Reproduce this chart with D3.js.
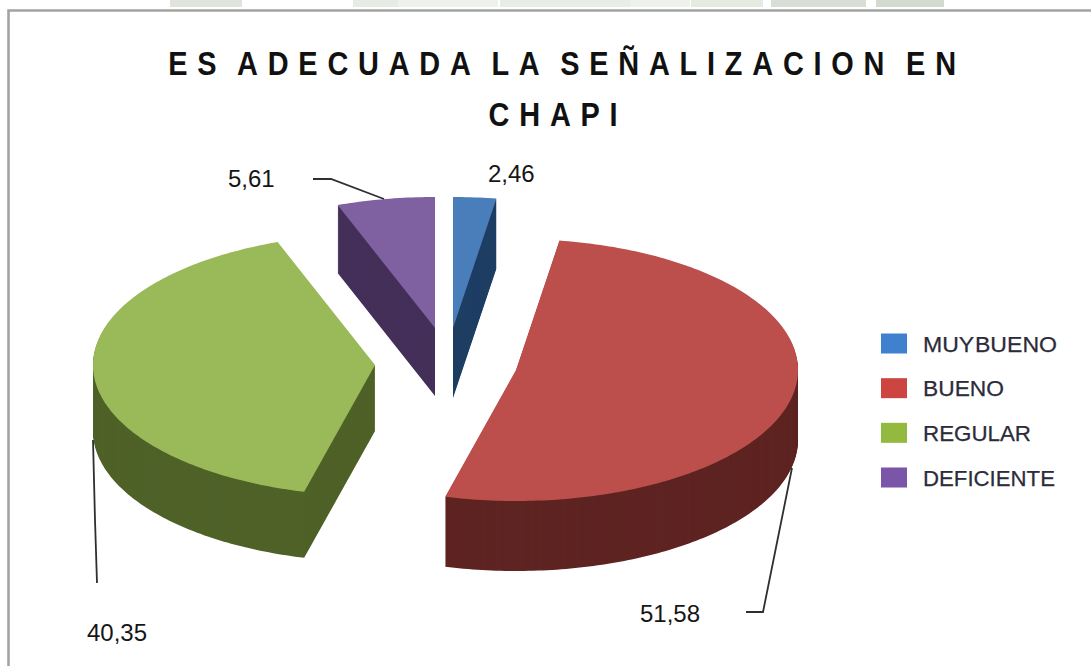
<!DOCTYPE html>
<html><head><meta charset="utf-8">
<script src="https://cdn.jsdelivr.net/npm/d3@7"></script>
<style>html,body{margin:0;padding:0;background:#fff}svg{display:block}text{font-family:"Liberation Sans",Arial,sans-serif}</style>
</head><body>
<svg id="c" width="1091" height="666"></svg>
<script>
const categories = ["MUY BUENO","BUENO","REGULAR","DEFICIENTE"];
const values = [2.46,51.58,40.35,5.61];
const valueLabels = ["2,46","51,58","40,35","5,61"];
const titleLines = ["ES ADECUADA LA SEÑALIZACION EN","CHAPI"];
const topColors = ["#4a7ebb","#bc4f4c","#9aba59","#7f60a1"];
const sideColors = ["#1f3e63","#5e2422","#4f6228","#432f58"];
const legendColors = ["#3f80cf","#cd4540","#93b93f","#7a55a8"];
// exploded slice centres (layout)
const centresX = [453,516,375,435];
const centresY = [328,370,365,328];
const depths = [70,70,66,68];
const labelX = [488,640,87,228];
const labelY = [182,622,641,187];
const leaders = [null,[[792,468],[763,612],[746,612]],[[93,440],[95,520],[97,583]],[[313,179],[331,179],[384,199]]];
const washBands = [[170,72,"#dfe5dc"],[353,45,"#e6ebe4"],[398,100,"#eef1ec"],[500,130,"#e9ede7"],[630,60,"#eef1ec"],[691,72,"#e6ebe2"],[771,95,"#d9dfd6"],[876,68,"#d3dacf"]];

const svg = d3.select("#c");
const rx = 282, ry = 131;

// faint watermark strip above the frame
svg.append("g").selectAll("rect").data(washBands).join("rect")
  .attr("x",d=>d[0]).attr("y",0).attr("width",d=>d[1]).attr("height",7).attr("fill",d=>d[2]);

// frame
svg.append("path").attr("d","M8.5,666V10.5H1091").attr("fill","none").attr("stroke","#a3a3a3").attr("stroke-width",2.6);

// title
const title = svg.append("g").attr("fill","#111").attr("font-weight","700").attr("text-anchor","middle");
[[567,75],[558,125.5]].forEach((p,i)=>{
  title.append("text").text(titleLines[i])
    .attr("transform",`translate(${p[0]},${p[1]}) scale(0.85,1)`)
    .attr("font-size",34)
    .style("letter-spacing","11.5px").style("word-spacing","-7px");
});

// pie
const pie = d3.pie().sort(null).value(d=>d).startAngle(0).endAngle(2*Math.PI)(values);
const proj = (i,a,r=1)=>[centresX[i]+rx*r*Math.sin(a), centresY[i]-ry*r*Math.cos(a)];
const line = d3.line();
const slices = svg.append("g");
[0,3,2,1].forEach(i=>{
  const s = pie[i];
  const n = Math.max(4,Math.ceil((s.endAngle-s.startAngle)*60));
  const arcScale = d3.scaleLinear().domain([0,n]).range([s.startAngle,s.endAngle]);
  const pts = [proj(i,0,0)].concat(d3.range(n+1).map(k=>proj(i,arcScale(k))));
  const d = line(pts)+"Z";
  const g = slices.append("g");
  g.selectAll("path.side").data(d3.range(depths[i],0,-1)).join("path").attr("class","side")
    .attr("d",d).attr("transform",k=>`translate(0,${k})`).attr("fill",sideColors[i]);
  g.append("path").attr("d",d).attr("fill",topColors[i]);
});

// leaders
svg.append("g").selectAll("path").data(leaders.filter(Boolean)).join("path")
  .attr("d",d=>line(d)).attr("fill","none").attr("stroke","#2f2f2f").attr("stroke-width",1.8);

// value labels
svg.append("g").selectAll("text").data(valueLabels).join("text")
  .attr("x",(d,i)=>labelX[i]).attr("y",(d,i)=>labelY[i])
  .attr("font-size",24).attr("fill","#161616").text(d=>d);

// legend
const legY = d3.scalePoint().domain(categories).range([343.5,477.5]);
const leg = svg.append("g").selectAll("g").data(categories).join("g");
leg.append("rect").attr("x",881).attr("y",d=>legY(d)-10).attr("width",26).attr("height",20)
  .attr("fill",(d,i)=>legendColors[i]);
leg.append("text").attr("x",923).attr("y",d=>legY(d)+8).attr("font-size",22).attr("fill","#2c2c3a")
  .attr("stroke","#2c2c3a").attr("stroke-width",0.25)
  .style("word-spacing","-5px").attr("textLength",(d,i)=>[134,81,108,132][i]).attr("lengthAdjust","spacingAndGlyphs").text(d=>d);
</script>
</body></html>
